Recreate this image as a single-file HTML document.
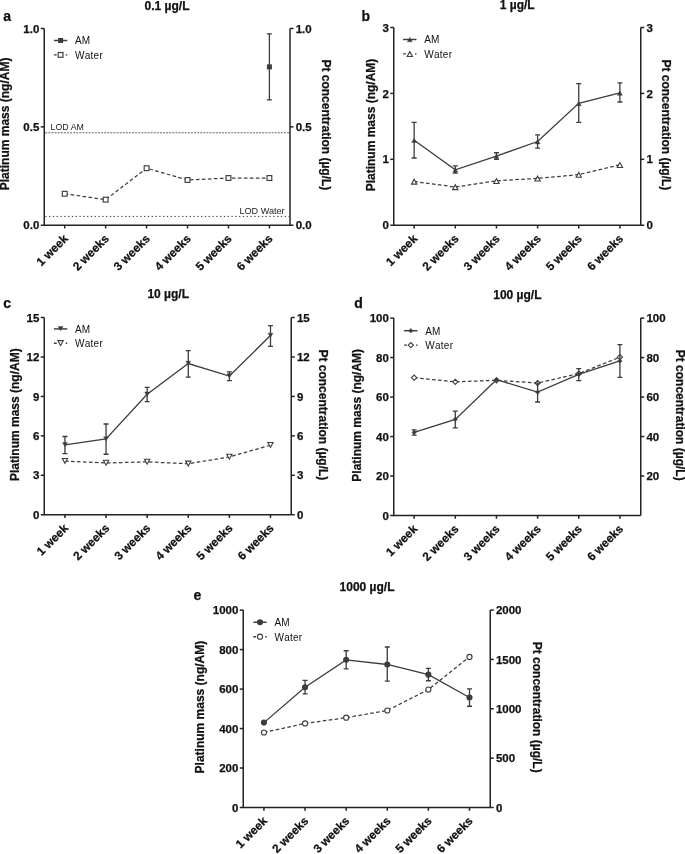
<!DOCTYPE html>
<html><head><meta charset="utf-8"><style>
html,body{margin:0;padding:0;background:#fff;}
svg{display:block;will-change:transform;}
text[font-weight="bold"]{stroke:#111;stroke-width:0.25px;}
</style></head><body>
<svg width="685" height="854" viewBox="0 0 685 854" font-family="Liberation Sans, sans-serif">
<rect width="685" height="854" fill="#fff"/>
<text x="3.3" y="21.3" font-size="14" font-weight="bold" fill="#111">a</text>
<text x="167" y="10" font-size="12" font-weight="bold" fill="#111" text-anchor="middle">0.1 µg/L</text>
<line x1="45.25" y1="132.78" x2="289.0" y2="132.78" stroke="#666" stroke-width="1" stroke-dasharray="2,1.1"/>
<text x="50.6" y="130.08" font-size="8.8" fill="#222" text-anchor="start">LOD AM</text>
<line x1="45.25" y1="216.4" x2="289.0" y2="216.4" stroke="#333" stroke-width="1" stroke-dasharray="1.3,2.5"/>
<text x="284.6" y="213.8" font-size="9.1" fill="#222" text-anchor="end">LOD Water</text>
<polyline points="64.7,193.77 105.64,199.67 146.58,168.19 187.52,180 228.46,178.03 269.4,178.03" fill="none" stroke="#3c3c3c" stroke-width="1.25" stroke-dasharray="3.6,2.4"/>
<rect x="62.3" y="191.37" width="4.8" height="4.8" fill="#fff" stroke="#3c3c3c" stroke-width="1.15"/>
<rect x="103.24" y="197.27" width="4.8" height="4.8" fill="#fff" stroke="#3c3c3c" stroke-width="1.15"/>
<rect x="144.18" y="165.79" width="4.8" height="4.8" fill="#fff" stroke="#3c3c3c" stroke-width="1.15"/>
<rect x="185.12" y="177.6" width="4.8" height="4.8" fill="#fff" stroke="#3c3c3c" stroke-width="1.15"/>
<rect x="226.06" y="175.63" width="4.8" height="4.8" fill="#fff" stroke="#3c3c3c" stroke-width="1.15"/>
<rect x="267" y="175.63" width="4.8" height="4.8" fill="#fff" stroke="#3c3c3c" stroke-width="1.15"/>
<path d="M269.4,33.91V99.8M266.9,33.91H271.9M266.9,99.8H271.9" stroke="#3c3c3c" stroke-width="1.3" fill="none"/>
<rect x="266.9" y="64.37" width="5" height="5" fill="#3c3c3c" stroke="#3c3c3c" stroke-width="0"/>
<path d="M44.25,28.5V225.25H290" stroke="#222" stroke-width="1.5" fill="none"/>
<path d="M290,28.5V225.25" stroke="#222" stroke-width="1.5" fill="none"/>
<line x1="40.75" y1="28.5" x2="44.25" y2="28.5" stroke="#222" stroke-width="1.5"/>
<text x="39.35" y="32.6" font-size="11.5" font-weight="bold" fill="#111" text-anchor="end">1.0</text>
<line x1="40.75" y1="126.88" x2="44.25" y2="126.88" stroke="#222" stroke-width="1.5"/>
<text x="39.35" y="130.97" font-size="11.5" font-weight="bold" fill="#111" text-anchor="end">0.5</text>
<line x1="40.75" y1="225.25" x2="44.25" y2="225.25" stroke="#222" stroke-width="1.5"/>
<text x="39.35" y="229.35" font-size="11.5" font-weight="bold" fill="#111" text-anchor="end">0.0</text>
<line x1="290" y1="28.5" x2="293.5" y2="28.5" stroke="#222" stroke-width="1.5"/>
<text x="295.7" y="32.6" font-size="11.5" font-weight="bold" fill="#111">1.0</text>
<line x1="290" y1="126.88" x2="293.5" y2="126.88" stroke="#222" stroke-width="1.5"/>
<text x="295.7" y="130.97" font-size="11.5" font-weight="bold" fill="#111">0.5</text>
<line x1="290" y1="225.25" x2="293.5" y2="225.25" stroke="#222" stroke-width="1.5"/>
<text x="295.7" y="229.35" font-size="11.5" font-weight="bold" fill="#111">0.0</text>
<line x1="64.7" y1="225.25" x2="64.7" y2="228.45" stroke="#222" stroke-width="1.5"/>
<text transform="translate(68.7,239.35) rotate(-45)" font-size="11.8" font-weight="bold" fill="#111" text-anchor="end">1 week</text>
<line x1="105.64" y1="225.25" x2="105.64" y2="228.45" stroke="#222" stroke-width="1.5"/>
<text transform="translate(109.64,239.35) rotate(-45)" font-size="11.8" font-weight="bold" fill="#111" text-anchor="end">2 weeks</text>
<line x1="146.58" y1="225.25" x2="146.58" y2="228.45" stroke="#222" stroke-width="1.5"/>
<text transform="translate(150.58,239.35) rotate(-45)" font-size="11.8" font-weight="bold" fill="#111" text-anchor="end">3 weeks</text>
<line x1="187.52" y1="225.25" x2="187.52" y2="228.45" stroke="#222" stroke-width="1.5"/>
<text transform="translate(191.52,239.35) rotate(-45)" font-size="11.8" font-weight="bold" fill="#111" text-anchor="end">4 weeks</text>
<line x1="228.46" y1="225.25" x2="228.46" y2="228.45" stroke="#222" stroke-width="1.5"/>
<text transform="translate(232.46,239.35) rotate(-45)" font-size="11.8" font-weight="bold" fill="#111" text-anchor="end">5 weeks</text>
<line x1="269.4" y1="225.25" x2="269.4" y2="228.45" stroke="#222" stroke-width="1.5"/>
<text transform="translate(273.4,239.35) rotate(-45)" font-size="11.8" font-weight="bold" fill="#111" text-anchor="end">6 weeks</text>
<text transform="translate(9,123.9) rotate(-90)" font-size="12" font-weight="bold" fill="#111" text-anchor="middle">Platinum mass (ng/AM)</text>
<text transform="translate(321.5,124.9) rotate(90)" font-size="12" font-weight="bold" fill="#111" text-anchor="middle">Pt concentration (µg/L)</text>
<line x1="53.9" y1="40.5" x2="67.3" y2="40.5" stroke="#3c3c3c" stroke-width="1.45"/>
<rect x="58.1" y="38" width="5" height="5" fill="#3c3c3c" stroke="#3c3c3c" stroke-width="0"/>
<text x="75.1" y="44.3" font-size="10" fill="#111">AM</text>
<line x1="53.9" y1="54.9" x2="67.3" y2="54.9" stroke="#3c3c3c" stroke-width="1.4" stroke-dasharray="2.8,9.1,1.5,10"/>
<rect x="58.2" y="52.5" width="4.8" height="4.8" fill="#fff" stroke="#3c3c3c" stroke-width="1.15"/>
<text x="75.1" y="58.7" font-size="10" fill="#111" style="font-kerning:none;letter-spacing:0.25px">Water</text>
<text x="361.5" y="21.3" font-size="14" font-weight="bold" fill="#111">b</text>
<text x="517.2" y="8.5" font-size="12" font-weight="bold" fill="#111" text-anchor="middle">1 µg/L</text>
<polyline points="414.15,181.48 455.3,187.02 496.45,180.82 537.6,178.38 578.75,174.63 619.9,164.8" fill="none" stroke="#3c3c3c" stroke-width="1.25" stroke-dasharray="3.6,2.4"/>
<polygon points="411.5,184.13 416.8,184.13 414.15,179.23" fill="#fff" stroke="#3c3c3c" stroke-width="1.1" stroke-linejoin="miter"/>
<polygon points="452.65,189.67 457.95,189.67 455.3,184.77" fill="#fff" stroke="#3c3c3c" stroke-width="1.1" stroke-linejoin="miter"/>
<polygon points="493.8,183.47 499.1,183.47 496.45,178.57" fill="#fff" stroke="#3c3c3c" stroke-width="1.1" stroke-linejoin="miter"/>
<polygon points="534.95,181.03 540.25,181.03 537.6,176.13" fill="#fff" stroke="#3c3c3c" stroke-width="1.1" stroke-linejoin="miter"/>
<polygon points="576.1,177.28 581.4,177.28 578.75,172.38" fill="#fff" stroke="#3c3c3c" stroke-width="1.1" stroke-linejoin="miter"/>
<polygon points="617.25,167.45 622.55,167.45 619.9,162.55" fill="#fff" stroke="#3c3c3c" stroke-width="1.1" stroke-linejoin="miter"/>
<polyline points="414.15,140.22 455.3,169.88 496.45,156.04 537.6,141.54 578.75,103.3 619.9,92.96" fill="none" stroke="#3c3c3c" stroke-width="1.3"/>
<path d="M414.15,122.42V158.01M411.65,122.42H416.65M411.65,158.01H416.65" stroke="#3c3c3c" stroke-width="1.3" fill="none"/>
<path d="M455.3,165.93V173.18M452.8,165.93H457.8M452.8,173.18H457.8" stroke="#3c3c3c" stroke-width="1.3" fill="none"/>
<path d="M496.45,152.74V159.33M493.95,152.74H498.95M493.95,159.33H498.95" stroke="#3c3c3c" stroke-width="1.3" fill="none"/>
<path d="M537.6,134.94V148.13M535.1,134.94H540.1M535.1,148.13H540.1" stroke="#3c3c3c" stroke-width="1.3" fill="none"/>
<path d="M578.75,83.53V122.42M576.25,83.53H581.25M576.25,122.42H581.25" stroke="#3c3c3c" stroke-width="1.3" fill="none"/>
<path d="M619.9,82.87V101.99M617.4,82.87H622.4M617.4,101.99H622.4" stroke="#3c3c3c" stroke-width="1.3" fill="none"/>
<polygon points="411.7,142.57 416.6,142.57 414.15,138.27" fill="#3c3c3c" stroke="#3c3c3c" stroke-width="0.4" stroke-linejoin="miter"/>
<polygon points="452.85,172.23 457.75,172.23 455.3,167.93" fill="#3c3c3c" stroke="#3c3c3c" stroke-width="0.4" stroke-linejoin="miter"/>
<polygon points="494,158.39 498.9,158.39 496.45,154.09" fill="#3c3c3c" stroke="#3c3c3c" stroke-width="0.4" stroke-linejoin="miter"/>
<polygon points="535.15,143.89 540.05,143.89 537.6,139.59" fill="#3c3c3c" stroke="#3c3c3c" stroke-width="0.4" stroke-linejoin="miter"/>
<polygon points="576.3,105.65 581.2,105.65 578.75,101.35" fill="#3c3c3c" stroke="#3c3c3c" stroke-width="0.4" stroke-linejoin="miter"/>
<polygon points="617.45,95.31 622.35,95.31 619.9,91.01" fill="#3c3c3c" stroke="#3c3c3c" stroke-width="0.4" stroke-linejoin="miter"/>
<path d="M393.75,27.5V225.25H640.75" stroke="#222" stroke-width="1.5" fill="none"/>
<path d="M640.75,27.5V225.25" stroke="#222" stroke-width="1.5" fill="none"/>
<line x1="390.25" y1="27.5" x2="393.75" y2="27.5" stroke="#222" stroke-width="1.5"/>
<text x="388.85" y="31.6" font-size="11.5" font-weight="bold" fill="#111" text-anchor="end">3</text>
<line x1="390.25" y1="93.42" x2="393.75" y2="93.42" stroke="#222" stroke-width="1.5"/>
<text x="388.85" y="97.52" font-size="11.5" font-weight="bold" fill="#111" text-anchor="end">2</text>
<line x1="390.25" y1="159.33" x2="393.75" y2="159.33" stroke="#222" stroke-width="1.5"/>
<text x="388.85" y="163.43" font-size="11.5" font-weight="bold" fill="#111" text-anchor="end">1</text>
<line x1="390.25" y1="225.25" x2="393.75" y2="225.25" stroke="#222" stroke-width="1.5"/>
<text x="388.85" y="229.35" font-size="11.5" font-weight="bold" fill="#111" text-anchor="end">0</text>
<line x1="640.75" y1="27.5" x2="644.25" y2="27.5" stroke="#222" stroke-width="1.5"/>
<text x="646.45" y="31.6" font-size="11.5" font-weight="bold" fill="#111">3</text>
<line x1="640.75" y1="93.42" x2="644.25" y2="93.42" stroke="#222" stroke-width="1.5"/>
<text x="646.45" y="97.52" font-size="11.5" font-weight="bold" fill="#111">2</text>
<line x1="640.75" y1="159.33" x2="644.25" y2="159.33" stroke="#222" stroke-width="1.5"/>
<text x="646.45" y="163.43" font-size="11.5" font-weight="bold" fill="#111">1</text>
<line x1="640.75" y1="225.25" x2="644.25" y2="225.25" stroke="#222" stroke-width="1.5"/>
<text x="646.45" y="229.35" font-size="11.5" font-weight="bold" fill="#111">0</text>
<line x1="414.15" y1="225.25" x2="414.15" y2="228.45" stroke="#222" stroke-width="1.5"/>
<text transform="translate(418.15,239.35) rotate(-45)" font-size="11.8" font-weight="bold" fill="#111" text-anchor="end">1 week</text>
<line x1="455.3" y1="225.25" x2="455.3" y2="228.45" stroke="#222" stroke-width="1.5"/>
<text transform="translate(459.3,239.35) rotate(-45)" font-size="11.8" font-weight="bold" fill="#111" text-anchor="end">2 weeks</text>
<line x1="496.45" y1="225.25" x2="496.45" y2="228.45" stroke="#222" stroke-width="1.5"/>
<text transform="translate(500.45,239.35) rotate(-45)" font-size="11.8" font-weight="bold" fill="#111" text-anchor="end">3 weeks</text>
<line x1="537.6" y1="225.25" x2="537.6" y2="228.45" stroke="#222" stroke-width="1.5"/>
<text transform="translate(541.6,239.35) rotate(-45)" font-size="11.8" font-weight="bold" fill="#111" text-anchor="end">4 weeks</text>
<line x1="578.75" y1="225.25" x2="578.75" y2="228.45" stroke="#222" stroke-width="1.5"/>
<text transform="translate(582.75,239.35) rotate(-45)" font-size="11.8" font-weight="bold" fill="#111" text-anchor="end">5 weeks</text>
<line x1="619.9" y1="225.25" x2="619.9" y2="228.45" stroke="#222" stroke-width="1.5"/>
<text transform="translate(623.9,239.35) rotate(-45)" font-size="11.8" font-weight="bold" fill="#111" text-anchor="end">6 weeks</text>
<text transform="translate(375,125) rotate(-90)" font-size="12" font-weight="bold" fill="#111" text-anchor="middle">Platinum mass (ng/AM)</text>
<text transform="translate(661.9,124.9) rotate(90)" font-size="12" font-weight="bold" fill="#111" text-anchor="middle">Pt concentration (µg/L)</text>
<line x1="403.1" y1="39.5" x2="416.5" y2="39.5" stroke="#3c3c3c" stroke-width="1.45"/>
<polygon points="407.35,41.85 412.25,41.85 409.8,37.55" fill="#3c3c3c" stroke="#3c3c3c" stroke-width="0.4" stroke-linejoin="miter"/>
<text x="424.3" y="43.3" font-size="10" fill="#111">AM</text>
<line x1="403.1" y1="53.9" x2="416.5" y2="53.9" stroke="#3c3c3c" stroke-width="1.4" stroke-dasharray="2.8,9.1,1.5,10"/>
<polygon points="407.15,56.55 412.45,56.55 409.8,51.65" fill="#fff" stroke="#3c3c3c" stroke-width="1.1" stroke-linejoin="miter"/>
<text x="424.3" y="57.7" font-size="10" fill="#111" style="font-kerning:none;letter-spacing:0.25px">Water</text>
<text x="3.3" y="307.8" font-size="14" font-weight="bold" fill="#111">c</text>
<text x="168.2" y="298.4" font-size="12" font-weight="bold" fill="#111" text-anchor="middle">10 µg/L</text>
<polyline points="64.94,461.1 106.05,462.94 147.16,461.89 188.27,463.73 229.38,456.89 270.49,445.19" fill="none" stroke="#3c3c3c" stroke-width="1.25" stroke-dasharray="3.6,2.4"/>
<polygon points="62.29,458.45 67.59,458.45 64.94,463.35" fill="#fff" stroke="#3c3c3c" stroke-width="1.1" stroke-linejoin="miter"/>
<polygon points="103.4,460.29 108.7,460.29 106.05,465.19" fill="#fff" stroke="#3c3c3c" stroke-width="1.1" stroke-linejoin="miter"/>
<polygon points="144.51,459.24 149.81,459.24 147.16,464.14" fill="#fff" stroke="#3c3c3c" stroke-width="1.1" stroke-linejoin="miter"/>
<polygon points="185.62,461.08 190.92,461.08 188.27,465.98" fill="#fff" stroke="#3c3c3c" stroke-width="1.1" stroke-linejoin="miter"/>
<polygon points="226.73,454.24 232.03,454.24 229.38,459.14" fill="#fff" stroke="#3c3c3c" stroke-width="1.1" stroke-linejoin="miter"/>
<polygon points="267.84,442.54 273.14,442.54 270.49,447.44" fill="#fff" stroke="#3c3c3c" stroke-width="1.1" stroke-linejoin="miter"/>
<polyline points="64.94,444.79 106.05,439.01 147.16,394.3 188.27,363.52 229.38,376.02 270.49,335.52" fill="none" stroke="#3c3c3c" stroke-width="1.3"/>
<path d="M64.94,436.51V453.6M62.44,436.51H67.44M62.44,453.6H67.44" stroke="#3c3c3c" stroke-width="1.3" fill="none"/>
<path d="M106.05,424.01V454.26M103.55,424.01H108.55M103.55,454.26H108.55" stroke="#3c3c3c" stroke-width="1.3" fill="none"/>
<path d="M147.16,387.46V401.66M144.66,387.46H149.66M144.66,401.66H149.66" stroke="#3c3c3c" stroke-width="1.3" fill="none"/>
<path d="M188.27,350.64V377.2M185.77,350.64H190.77M185.77,377.2H190.77" stroke="#3c3c3c" stroke-width="1.3" fill="none"/>
<path d="M229.38,371.94V380.62M226.88,371.94H231.88M226.88,380.62H231.88" stroke="#3c3c3c" stroke-width="1.3" fill="none"/>
<path d="M270.49,325.65V346.43M267.99,325.65H272.99M267.99,346.43H272.99" stroke="#3c3c3c" stroke-width="1.3" fill="none"/>
<polygon points="62.49,442.44 67.39,442.44 64.94,446.74" fill="#3c3c3c" stroke="#3c3c3c" stroke-width="0.4" stroke-linejoin="miter"/>
<polygon points="103.6,436.66 108.5,436.66 106.05,440.96" fill="#3c3c3c" stroke="#3c3c3c" stroke-width="0.4" stroke-linejoin="miter"/>
<polygon points="144.71,391.95 149.61,391.95 147.16,396.25" fill="#3c3c3c" stroke="#3c3c3c" stroke-width="0.4" stroke-linejoin="miter"/>
<polygon points="185.82,361.18 190.72,361.18 188.27,365.47" fill="#3c3c3c" stroke="#3c3c3c" stroke-width="0.4" stroke-linejoin="miter"/>
<polygon points="226.93,373.67 231.83,373.67 229.38,377.97" fill="#3c3c3c" stroke="#3c3c3c" stroke-width="0.4" stroke-linejoin="miter"/>
<polygon points="268.04,333.17 272.94,333.17 270.49,337.47" fill="#3c3c3c" stroke="#3c3c3c" stroke-width="0.4" stroke-linejoin="miter"/>
<path d="M44.25,317.5V514.75H291.25" stroke="#222" stroke-width="1.5" fill="none"/>
<path d="M291.25,317.5V514.75" stroke="#222" stroke-width="1.5" fill="none"/>
<line x1="40.75" y1="317.5" x2="44.25" y2="317.5" stroke="#222" stroke-width="1.5"/>
<text x="39.35" y="321.6" font-size="11.5" font-weight="bold" fill="#111" text-anchor="end">15</text>
<line x1="40.75" y1="356.95" x2="44.25" y2="356.95" stroke="#222" stroke-width="1.5"/>
<text x="39.35" y="361.05" font-size="11.5" font-weight="bold" fill="#111" text-anchor="end">12</text>
<line x1="40.75" y1="396.4" x2="44.25" y2="396.4" stroke="#222" stroke-width="1.5"/>
<text x="39.35" y="400.5" font-size="11.5" font-weight="bold" fill="#111" text-anchor="end">9</text>
<line x1="40.75" y1="435.85" x2="44.25" y2="435.85" stroke="#222" stroke-width="1.5"/>
<text x="39.35" y="439.95" font-size="11.5" font-weight="bold" fill="#111" text-anchor="end">6</text>
<line x1="40.75" y1="475.3" x2="44.25" y2="475.3" stroke="#222" stroke-width="1.5"/>
<text x="39.35" y="479.4" font-size="11.5" font-weight="bold" fill="#111" text-anchor="end">3</text>
<line x1="40.75" y1="514.75" x2="44.25" y2="514.75" stroke="#222" stroke-width="1.5"/>
<text x="39.35" y="518.85" font-size="11.5" font-weight="bold" fill="#111" text-anchor="end">0</text>
<line x1="291.25" y1="317.5" x2="294.75" y2="317.5" stroke="#222" stroke-width="1.5"/>
<text x="296.95" y="321.6" font-size="11.5" font-weight="bold" fill="#111">15</text>
<line x1="291.25" y1="356.95" x2="294.75" y2="356.95" stroke="#222" stroke-width="1.5"/>
<text x="296.95" y="361.05" font-size="11.5" font-weight="bold" fill="#111">12</text>
<line x1="291.25" y1="396.4" x2="294.75" y2="396.4" stroke="#222" stroke-width="1.5"/>
<text x="296.95" y="400.5" font-size="11.5" font-weight="bold" fill="#111">9</text>
<line x1="291.25" y1="435.85" x2="294.75" y2="435.85" stroke="#222" stroke-width="1.5"/>
<text x="296.95" y="439.95" font-size="11.5" font-weight="bold" fill="#111">6</text>
<line x1="291.25" y1="475.3" x2="294.75" y2="475.3" stroke="#222" stroke-width="1.5"/>
<text x="296.95" y="479.4" font-size="11.5" font-weight="bold" fill="#111">3</text>
<line x1="291.25" y1="514.75" x2="294.75" y2="514.75" stroke="#222" stroke-width="1.5"/>
<text x="296.95" y="518.85" font-size="11.5" font-weight="bold" fill="#111">0</text>
<line x1="64.94" y1="514.75" x2="64.94" y2="517.95" stroke="#222" stroke-width="1.5"/>
<text transform="translate(68.94,528.85) rotate(-45)" font-size="11.8" font-weight="bold" fill="#111" text-anchor="end">1 week</text>
<line x1="106.05" y1="514.75" x2="106.05" y2="517.95" stroke="#222" stroke-width="1.5"/>
<text transform="translate(110.05,528.85) rotate(-45)" font-size="11.8" font-weight="bold" fill="#111" text-anchor="end">2 weeks</text>
<line x1="147.16" y1="514.75" x2="147.16" y2="517.95" stroke="#222" stroke-width="1.5"/>
<text transform="translate(151.16,528.85) rotate(-45)" font-size="11.8" font-weight="bold" fill="#111" text-anchor="end">3 weeks</text>
<line x1="188.27" y1="514.75" x2="188.27" y2="517.95" stroke="#222" stroke-width="1.5"/>
<text transform="translate(192.27,528.85) rotate(-45)" font-size="11.8" font-weight="bold" fill="#111" text-anchor="end">4 weeks</text>
<line x1="229.38" y1="514.75" x2="229.38" y2="517.95" stroke="#222" stroke-width="1.5"/>
<text transform="translate(233.38,528.85) rotate(-45)" font-size="11.8" font-weight="bold" fill="#111" text-anchor="end">5 weeks</text>
<line x1="270.49" y1="514.75" x2="270.49" y2="517.95" stroke="#222" stroke-width="1.5"/>
<text transform="translate(274.49,528.85) rotate(-45)" font-size="11.8" font-weight="bold" fill="#111" text-anchor="end">6 weeks</text>
<text transform="translate(19,414.7) rotate(-90)" font-size="12" font-weight="bold" fill="#111" text-anchor="middle">Platinum mass (ng/AM)</text>
<text transform="translate(319.3,414.9) rotate(90)" font-size="12" font-weight="bold" fill="#111" text-anchor="middle">Pt concentration (µg/L)</text>
<line x1="53.9" y1="328.9" x2="67.3" y2="328.9" stroke="#3c3c3c" stroke-width="1.45"/>
<polygon points="58.15,326.55 63.05,326.55 60.6,330.85" fill="#3c3c3c" stroke="#3c3c3c" stroke-width="0.4" stroke-linejoin="miter"/>
<text x="75.1" y="332.7" font-size="10" fill="#111">AM</text>
<line x1="53.9" y1="343.3" x2="67.3" y2="343.3" stroke="#3c3c3c" stroke-width="1.4" stroke-dasharray="2.8,9.1,1.5,10"/>
<polygon points="57.95,340.65 63.25,340.65 60.6,345.55" fill="#fff" stroke="#3c3c3c" stroke-width="1.1" stroke-linejoin="miter"/>
<text x="75.1" y="347.1" font-size="10" fill="#111" style="font-kerning:none;letter-spacing:0.25px">Water</text>
<text x="354.3" y="307.8" font-size="14" font-weight="bold" fill="#111">d</text>
<text x="517.4" y="298.9" font-size="12" font-weight="bold" fill="#111" text-anchor="middle">100 µg/L</text>
<polyline points="414.15,377.71 455.3,381.86 496.45,380.28 537.6,383.04 578.75,373.57 619.9,357.19" fill="none" stroke="#3c3c3c" stroke-width="1.25" stroke-dasharray="3.6,2.4"/>
<polygon points="411.55,377.71 414.15,375.11 416.75,377.71 414.15,380.31" fill="#fff" stroke="#3c3c3c" stroke-width="1.1"/>
<polygon points="452.7,381.86 455.3,379.26 457.9,381.86 455.3,384.46" fill="#fff" stroke="#3c3c3c" stroke-width="1.1"/>
<polygon points="493.85,380.28 496.45,377.68 499.05,380.28 496.45,382.88" fill="#fff" stroke="#3c3c3c" stroke-width="1.1"/>
<polygon points="535,383.04 537.6,380.44 540.2,383.04 537.6,385.64" fill="#fff" stroke="#3c3c3c" stroke-width="1.1"/>
<polygon points="576.15,373.57 578.75,370.97 581.35,373.57 578.75,376.17" fill="#fff" stroke="#3c3c3c" stroke-width="1.1"/>
<polygon points="617.3,357.19 619.9,354.59 622.5,357.19 619.9,359.79" fill="#fff" stroke="#3c3c3c" stroke-width="1.1"/>
<polyline points="414.15,432.39 455.3,419.37 496.45,379.69 537.6,392.12 578.75,374.36 619.9,360.94" fill="none" stroke="#3c3c3c" stroke-width="1.3"/>
<path d="M414.15,429.83V435.16M411.65,429.83H416.65M411.65,435.16H416.65" stroke="#3c3c3c" stroke-width="1.3" fill="none"/>
<path d="M455.3,411.08V427.85M452.8,411.08H457.8M452.8,427.85H457.8" stroke="#3c3c3c" stroke-width="1.3" fill="none"/>
<path d="M537.6,383.04V402M535.1,383.04H540.1M535.1,402H540.1" stroke="#3c3c3c" stroke-width="1.3" fill="none"/>
<path d="M578.75,368.63V380.68M576.25,368.63H581.25M576.25,380.68H581.25" stroke="#3c3c3c" stroke-width="1.3" fill="none"/>
<path d="M619.9,344.55V377.32M617.4,344.55H622.4M617.4,377.32H622.4" stroke="#3c3c3c" stroke-width="1.3" fill="none"/>
<polygon points="411.95,432.39 414.15,430.19 416.35,432.39 414.15,434.59" fill="#3c3c3c" stroke="#3c3c3c" stroke-width="0.5"/>
<polygon points="453.1,419.37 455.3,417.17 457.5,419.37 455.3,421.57" fill="#3c3c3c" stroke="#3c3c3c" stroke-width="0.5"/>
<polygon points="494.25,379.69 496.45,377.49 498.65,379.69 496.45,381.89" fill="#3c3c3c" stroke="#3c3c3c" stroke-width="0.5"/>
<polygon points="535.4,392.12 537.6,389.93 539.8,392.12 537.6,394.32" fill="#3c3c3c" stroke="#3c3c3c" stroke-width="0.5"/>
<polygon points="576.55,374.36 578.75,372.16 580.95,374.36 578.75,376.56" fill="#3c3c3c" stroke="#3c3c3c" stroke-width="0.5"/>
<polygon points="617.7,360.94 619.9,358.74 622.1,360.94 619.9,363.14" fill="#3c3c3c" stroke="#3c3c3c" stroke-width="0.5"/>
<path d="M393.75,318.1V515.5H640.75" stroke="#222" stroke-width="1.5" fill="none"/>
<path d="M640.75,318.1V515.5" stroke="#222" stroke-width="1.5" fill="none"/>
<line x1="390.25" y1="318.1" x2="393.75" y2="318.1" stroke="#222" stroke-width="1.5"/>
<text x="388.85" y="322.2" font-size="11.5" font-weight="bold" fill="#111" text-anchor="end">100</text>
<line x1="390.25" y1="357.58" x2="393.75" y2="357.58" stroke="#222" stroke-width="1.5"/>
<text x="388.85" y="361.68" font-size="11.5" font-weight="bold" fill="#111" text-anchor="end">80</text>
<line x1="390.25" y1="397.06" x2="393.75" y2="397.06" stroke="#222" stroke-width="1.5"/>
<text x="388.85" y="401.16" font-size="11.5" font-weight="bold" fill="#111" text-anchor="end">60</text>
<line x1="390.25" y1="436.54" x2="393.75" y2="436.54" stroke="#222" stroke-width="1.5"/>
<text x="388.85" y="440.64" font-size="11.5" font-weight="bold" fill="#111" text-anchor="end">40</text>
<line x1="390.25" y1="476.02" x2="393.75" y2="476.02" stroke="#222" stroke-width="1.5"/>
<text x="388.85" y="480.12" font-size="11.5" font-weight="bold" fill="#111" text-anchor="end">20</text>
<line x1="390.25" y1="515.5" x2="393.75" y2="515.5" stroke="#222" stroke-width="1.5"/>
<text x="388.85" y="519.6" font-size="11.5" font-weight="bold" fill="#111" text-anchor="end">0</text>
<line x1="640.75" y1="318.1" x2="644.25" y2="318.1" stroke="#222" stroke-width="1.5"/>
<text x="646.45" y="322.2" font-size="11.5" font-weight="bold" fill="#111">100</text>
<line x1="640.75" y1="357.58" x2="644.25" y2="357.58" stroke="#222" stroke-width="1.5"/>
<text x="646.45" y="361.68" font-size="11.5" font-weight="bold" fill="#111">80</text>
<line x1="640.75" y1="397.06" x2="644.25" y2="397.06" stroke="#222" stroke-width="1.5"/>
<text x="646.45" y="401.16" font-size="11.5" font-weight="bold" fill="#111">60</text>
<line x1="640.75" y1="436.54" x2="644.25" y2="436.54" stroke="#222" stroke-width="1.5"/>
<text x="646.45" y="440.64" font-size="11.5" font-weight="bold" fill="#111">40</text>
<line x1="640.75" y1="476.02" x2="644.25" y2="476.02" stroke="#222" stroke-width="1.5"/>
<text x="646.45" y="480.12" font-size="11.5" font-weight="bold" fill="#111">20</text>
<line x1="414.15" y1="515.5" x2="414.15" y2="518.7" stroke="#222" stroke-width="1.5"/>
<text transform="translate(418.15,529.6) rotate(-45)" font-size="11.8" font-weight="bold" fill="#111" text-anchor="end">1 week</text>
<line x1="455.3" y1="515.5" x2="455.3" y2="518.7" stroke="#222" stroke-width="1.5"/>
<text transform="translate(459.3,529.6) rotate(-45)" font-size="11.8" font-weight="bold" fill="#111" text-anchor="end">2 weeks</text>
<line x1="496.45" y1="515.5" x2="496.45" y2="518.7" stroke="#222" stroke-width="1.5"/>
<text transform="translate(500.45,529.6) rotate(-45)" font-size="11.8" font-weight="bold" fill="#111" text-anchor="end">3 weeks</text>
<line x1="537.6" y1="515.5" x2="537.6" y2="518.7" stroke="#222" stroke-width="1.5"/>
<text transform="translate(541.6,529.6) rotate(-45)" font-size="11.8" font-weight="bold" fill="#111" text-anchor="end">4 weeks</text>
<line x1="578.75" y1="515.5" x2="578.75" y2="518.7" stroke="#222" stroke-width="1.5"/>
<text transform="translate(582.75,529.6) rotate(-45)" font-size="11.8" font-weight="bold" fill="#111" text-anchor="end">5 weeks</text>
<line x1="619.9" y1="515.5" x2="619.9" y2="518.7" stroke="#222" stroke-width="1.5"/>
<text transform="translate(623.9,529.6) rotate(-45)" font-size="11.8" font-weight="bold" fill="#111" text-anchor="end">6 weeks</text>
<text transform="translate(361.35,415.3) rotate(-90)" font-size="12" font-weight="bold" fill="#111" text-anchor="middle">Platinum mass (ng/AM)</text>
<text transform="translate(675.6,415.2) rotate(90)" font-size="12" font-weight="bold" fill="#111" text-anchor="middle">Pt concentration (µg/L)</text>
<line x1="404.1" y1="330.7" x2="417.5" y2="330.7" stroke="#3c3c3c" stroke-width="1.45"/>
<polygon points="408.6,330.7 410.8,328.5 413,330.7 410.8,332.9" fill="#3c3c3c" stroke="#3c3c3c" stroke-width="0.5"/>
<text x="425.3" y="334.5" font-size="10" fill="#111">AM</text>
<line x1="404.1" y1="345.1" x2="417.5" y2="345.1" stroke="#3c3c3c" stroke-width="1.4" stroke-dasharray="2.8,9.1,1.5,10"/>
<polygon points="408.2,345.1 410.8,342.5 413.4,345.1 410.8,347.7" fill="#fff" stroke="#3c3c3c" stroke-width="1.1"/>
<text x="425.3" y="348.9" font-size="10" fill="#111" style="font-kerning:none;letter-spacing:0.25px">Water</text>
<text x="193.5" y="600.2" font-size="14" font-weight="bold" fill="#111">e</text>
<text x="367" y="591" font-size="12" font-weight="bold" fill="#111" text-anchor="middle">1000 µg/L</text>
<polyline points="263.94,732.49 305.05,723.41 346.16,717.68 387.27,710.48 428.38,689.55 469.49,656.88" fill="none" stroke="#3c3c3c" stroke-width="1.25" stroke-dasharray="3.6,2.4"/>
<circle cx="263.94" cy="732.49" r="2.55" fill="#fff" stroke="#3c3c3c" stroke-width="1.1"/>
<circle cx="305.05" cy="723.41" r="2.55" fill="#fff" stroke="#3c3c3c" stroke-width="1.1"/>
<circle cx="346.16" cy="717.68" r="2.55" fill="#fff" stroke="#3c3c3c" stroke-width="1.1"/>
<circle cx="387.27" cy="710.48" r="2.55" fill="#fff" stroke="#3c3c3c" stroke-width="1.1"/>
<circle cx="428.38" cy="689.55" r="2.55" fill="#fff" stroke="#3c3c3c" stroke-width="1.1"/>
<circle cx="469.49" cy="656.88" r="2.55" fill="#fff" stroke="#3c3c3c" stroke-width="1.1"/>
<polyline points="263.94,722.62 305.05,687.28 346.16,659.84 387.27,664.48 428.38,674.65 469.49,697.55" fill="none" stroke="#3c3c3c" stroke-width="1.3"/>
<path d="M305.05,680.37V693.8M302.55,680.37H307.55M302.55,693.8H307.55" stroke="#3c3c3c" stroke-width="1.3" fill="none"/>
<path d="M346.16,650.76V668.93M343.66,650.76H348.66M343.66,668.93H348.66" stroke="#3c3c3c" stroke-width="1.3" fill="none"/>
<path d="M387.27,647.01V681.16M384.77,647.01H389.77M384.77,681.16H389.77" stroke="#3c3c3c" stroke-width="1.3" fill="none"/>
<path d="M428.38,668.33V680.77M425.88,668.33H430.88M425.88,680.77H430.88" stroke="#3c3c3c" stroke-width="1.3" fill="none"/>
<path d="M469.49,688.86V706.23M466.99,688.86H471.99M466.99,706.23H471.99" stroke="#3c3c3c" stroke-width="1.3" fill="none"/>
<circle cx="263.94" cy="722.62" r="3.05" fill="#3c3c3c"/>
<circle cx="305.05" cy="687.28" r="3.05" fill="#3c3c3c"/>
<circle cx="346.16" cy="659.84" r="3.05" fill="#3c3c3c"/>
<circle cx="387.27" cy="664.48" r="3.05" fill="#3c3c3c"/>
<circle cx="428.38" cy="674.65" r="3.05" fill="#3c3c3c"/>
<circle cx="469.49" cy="697.55" r="3.05" fill="#3c3c3c"/>
<path d="M243.25,610.1V807.5H490.25" stroke="#222" stroke-width="1.5" fill="none"/>
<path d="M490.25,610.1V807.5" stroke="#222" stroke-width="1.5" fill="none"/>
<line x1="239.75" y1="610.1" x2="243.25" y2="610.1" stroke="#222" stroke-width="1.5"/>
<text x="238.35" y="614.2" font-size="11.5" font-weight="bold" fill="#111" text-anchor="end">1000</text>
<line x1="239.75" y1="649.58" x2="243.25" y2="649.58" stroke="#222" stroke-width="1.5"/>
<text x="238.35" y="653.68" font-size="11.5" font-weight="bold" fill="#111" text-anchor="end">800</text>
<line x1="239.75" y1="689.06" x2="243.25" y2="689.06" stroke="#222" stroke-width="1.5"/>
<text x="238.35" y="693.16" font-size="11.5" font-weight="bold" fill="#111" text-anchor="end">600</text>
<line x1="239.75" y1="728.54" x2="243.25" y2="728.54" stroke="#222" stroke-width="1.5"/>
<text x="238.35" y="732.64" font-size="11.5" font-weight="bold" fill="#111" text-anchor="end">400</text>
<line x1="239.75" y1="768.02" x2="243.25" y2="768.02" stroke="#222" stroke-width="1.5"/>
<text x="238.35" y="772.12" font-size="11.5" font-weight="bold" fill="#111" text-anchor="end">200</text>
<line x1="239.75" y1="807.5" x2="243.25" y2="807.5" stroke="#222" stroke-width="1.5"/>
<text x="238.35" y="811.6" font-size="11.5" font-weight="bold" fill="#111" text-anchor="end">0</text>
<line x1="490.25" y1="610.1" x2="493.75" y2="610.1" stroke="#222" stroke-width="1.5"/>
<text x="495.95" y="614.2" font-size="11.5" font-weight="bold" fill="#111">2000</text>
<line x1="490.25" y1="659.45" x2="493.75" y2="659.45" stroke="#222" stroke-width="1.5"/>
<text x="495.95" y="663.55" font-size="11.5" font-weight="bold" fill="#111">1500</text>
<line x1="490.25" y1="708.8" x2="493.75" y2="708.8" stroke="#222" stroke-width="1.5"/>
<text x="495.95" y="712.9" font-size="11.5" font-weight="bold" fill="#111">1000</text>
<line x1="490.25" y1="758.15" x2="493.75" y2="758.15" stroke="#222" stroke-width="1.5"/>
<text x="495.95" y="762.25" font-size="11.5" font-weight="bold" fill="#111">500</text>
<line x1="490.25" y1="807.5" x2="493.75" y2="807.5" stroke="#222" stroke-width="1.5"/>
<text x="495.95" y="811.6" font-size="11.5" font-weight="bold" fill="#111">0</text>
<line x1="263.94" y1="807.5" x2="263.94" y2="810.7" stroke="#222" stroke-width="1.5"/>
<text transform="translate(267.94,821.6) rotate(-45)" font-size="11.8" font-weight="bold" fill="#111" text-anchor="end">1 week</text>
<line x1="305.05" y1="807.5" x2="305.05" y2="810.7" stroke="#222" stroke-width="1.5"/>
<text transform="translate(309.05,821.6) rotate(-45)" font-size="11.8" font-weight="bold" fill="#111" text-anchor="end">2 weeks</text>
<line x1="346.16" y1="807.5" x2="346.16" y2="810.7" stroke="#222" stroke-width="1.5"/>
<text transform="translate(350.16,821.6) rotate(-45)" font-size="11.8" font-weight="bold" fill="#111" text-anchor="end">3 weeks</text>
<line x1="387.27" y1="807.5" x2="387.27" y2="810.7" stroke="#222" stroke-width="1.5"/>
<text transform="translate(391.27,821.6) rotate(-45)" font-size="11.8" font-weight="bold" fill="#111" text-anchor="end">4 weeks</text>
<line x1="428.38" y1="807.5" x2="428.38" y2="810.7" stroke="#222" stroke-width="1.5"/>
<text transform="translate(432.38,821.6) rotate(-45)" font-size="11.8" font-weight="bold" fill="#111" text-anchor="end">5 weeks</text>
<line x1="469.49" y1="807.5" x2="469.49" y2="810.7" stroke="#222" stroke-width="1.5"/>
<text transform="translate(473.49,821.6) rotate(-45)" font-size="11.8" font-weight="bold" fill="#111" text-anchor="end">6 weeks</text>
<text transform="translate(204.1,707.1) rotate(-90)" font-size="12" font-weight="bold" fill="#111" text-anchor="middle">Platinum mass (ng/AM)</text>
<text transform="translate(533.1,707.2) rotate(90)" font-size="12" font-weight="bold" fill="#111" text-anchor="middle">Pt concentration (µg/L)</text>
<line x1="253.3" y1="622.3" x2="266.7" y2="622.3" stroke="#3c3c3c" stroke-width="1.45"/>
<circle cx="260" cy="622.3" r="3.05" fill="#3c3c3c"/>
<text x="274.5" y="626.1" font-size="10" fill="#111">AM</text>
<line x1="253.3" y1="636.7" x2="266.7" y2="636.7" stroke="#3c3c3c" stroke-width="1.4" stroke-dasharray="2.8,9.1,1.5,10"/>
<circle cx="260" cy="636.7" r="2.55" fill="#fff" stroke="#3c3c3c" stroke-width="1.1"/>
<text x="274.5" y="640.5" font-size="10" fill="#111" style="font-kerning:none;letter-spacing:0.25px">Water</text>
</svg>
</body></html>
